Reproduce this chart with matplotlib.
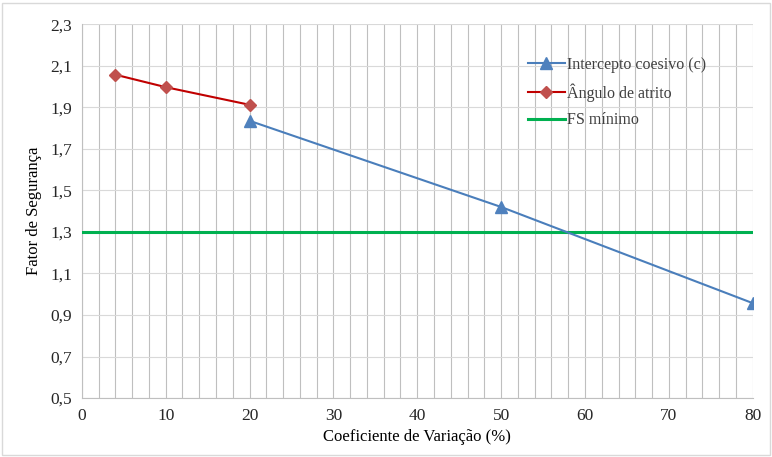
import numpy as np
import matplotlib
matplotlib.use('Agg')
import matplotlib.pyplot as plt
from matplotlib.patches import Rectangle

plt.rcParams['font.family'] = ['Liberation Serif', 'DejaVu Serif']

# data
cv_coesivo = [20, 50, 80]
fs_coesivo = [1.835, 1.42, 0.957]
cv_atrito = [4, 10, 20]
fs_atrito = [2.057, 1.997, 1.912]
fs_min = 1.3
x_range = [0, 80]

fig = plt.figure(figsize=(7.72, 4.57), dpi=100)
ax = fig.add_axes([0.106, 0.129, 0.869, 0.818])

fig.patches.append(Rectangle((0.003, 0.004), 0.994, 0.99, transform=fig.transFigure,
                             fill=False, edgecolor='#d9d9d9', linewidth=1))

ax.plot(cv_coesivo, fs_coesivo, color='#4a7ebb', lw=1.5, marker='^', ms=8,
        markerfacecolor='#4f81bd', markeredgecolor='#4f81bd', label='Intercepto coesivo (c)', zorder=4)
ax.plot(cv_atrito, fs_atrito, color='#c00000', lw=1.5, marker='D', ms=6.5,
        markerfacecolor='#c0504d', markeredgecolor='#c0504d', label='Ângulo de atrito', zorder=4)
ax.plot(x_range, [fs_min, fs_min], color='#00b050', lw=2.2, label='FS mínimo', zorder=3)

ax.set_xlim(0, 80)
ax.set_ylim(0.5, 2.3)
ax.set_xticks(np.arange(0, 81, 10))
ax.set_xticks(np.arange(0, 81, 2), minor=True)
ax.set_yticks(np.arange(0.5, 2.31, 0.2))
ax.set_yticklabels([f'{v:.1f}'.replace('.', ',') for v in np.arange(0.5, 2.31, 0.2)])

ax.grid(True, which='minor', axis='x', color='#bfbfbf', lw=0.8)
ax.grid(True, which='major', axis='x', color='#bfbfbf', lw=0.8)
ax.grid(True, which='major', axis='y', color='#d9d9d9', lw=0.8)
ax.set_axisbelow(True)

for s in ['top', 'right']:
    ax.spines[s].set_visible(False)
for s in ['left', 'bottom']:
    ax.spines[s].set_color('#bfbfbf')
ax.tick_params(which='both', length=0, labelsize=12.5, colors='#262626', pad=7)

ax.set_xlabel('Coeficiente de Variação (%)', fontsize=12, labelpad=4)
ax.set_ylabel('Fator de Segurança', fontsize=12, labelpad=6)

ax.legend(loc='upper left', bbox_to_anchor=(0.653, 0.934), frameon=False, fontsize=11.5,
          handlelength=2.3, handletextpad=0.15, labelspacing=0.65, borderpad=0,
          labelcolor='#404040')

plt.savefig('out.png', dpi=100)
